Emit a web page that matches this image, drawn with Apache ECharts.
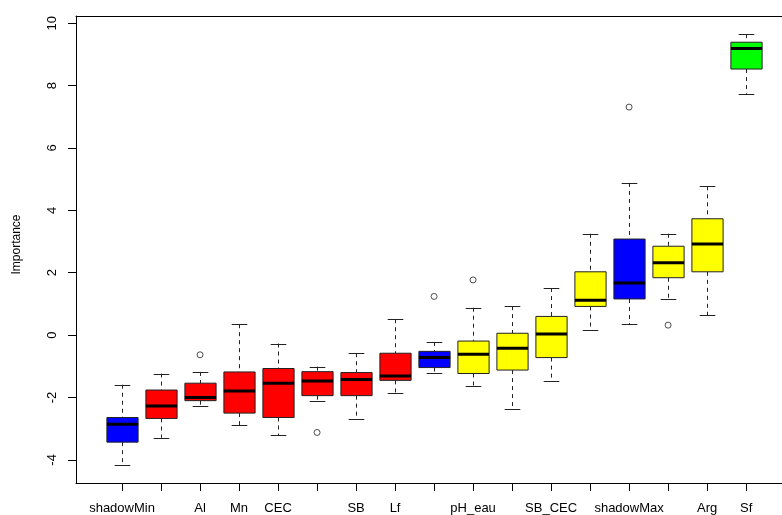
<!DOCTYPE html>
<html>
<head>
<meta charset="utf-8">
<script src="https://cdn.jsdelivr.net/npm/echarts@6/dist/echarts.min.js"></script>
<style>
  html, body { margin: 0; padding: 0; background: #fff; }
  #chart { width: 782px; height: 515px; }
</style>
</head>
<body>
<div id="chart"></div>
<script>
// Category labels (empty where the original axis dropped the label)
const categories = ['shadowMin', '', 'Al', 'Mn', 'CEC', '', 'SB', 'Lf', '', 'pH_eau', '', 'SB_CEC', '', 'shadowMax', '', 'Arg', 'Sf'];
// Boruta decision per attribute (drives fill colour)
const decisions = ['shadow', 'Rejected', 'Rejected', 'Rejected', 'Rejected', 'Rejected', 'Rejected', 'Rejected', 'shadow',
                   'Tentative', 'Tentative', 'Tentative', 'Tentative', 'shadow', 'Tentative', 'Tentative', 'Confirmed'];
// Box statistics
const lows    = [-4.16, -3.29, -2.27, -2.89, -3.20, -2.10, -2.70, -1.85, -1.22, -1.62, -2.38, -1.48, 0.18, 0.35, 1.16, 0.63, 7.74];
const q1s     = [-3.43, -2.67, -2.10, -2.50, -2.64, -1.94, -1.94, -1.45, -1.04, -1.23, -1.12, -0.72, 0.92, 1.16, 1.84, 2.03, 8.53];
const medians = [-2.86, -2.27, -2.00, -1.79, -1.54, -1.47, -1.42, -1.31, -0.72, -0.61, -0.42, 0.04, 1.12, 1.67, 2.32, 2.92, 9.19];
const q3s     = [-2.64, -1.76, -1.54, -1.18, -1.07, -1.17, -1.20, -0.58, -0.52, -0.19, 0.06, 0.60, 2.03, 3.08, 2.85, 3.73, 9.39];
const highs   = [-1.59, -1.23, -1.18, 0.35, -0.27, -1.01, -0.58, 0.51, -0.22, 0.88, 0.93, 1.51, 3.25, 4.88, 3.25, 4.77, 9.65];
// Outliers
const outlierIdx = [2, 5, 8, 9, 13, 14];
const outlierVal = [-0.63, -3.12, 1.24, 1.77, 7.31, 0.32];
// Y tick labels
const yTicks = [-4, -2, 0, 2, 4, 6, 8, 10];

const colorMap = { shadow: '#0000FF', Rejected: '#FF0000', Tentative: '#FFFF00', Confirmed: '#00FF00' };

const boxData = categories.map((c, i) => [i, lows[i], q1s[i], medians[i], q3s[i], highs[i]]);
const outData = outlierIdx.map((ix, k) => [ix, outlierVal[k]]);
const xTicks = categories.map((c, i) => i);

const FONT = 'Liberation Sans, Arial, sans-serif';
const chart = echarts.init(document.getElementById('chart'), null, { renderer: 'canvas' });

chart.setOption({
  animation: false,
  backgroundColor: '#ffffff',
  grid: { left: 76, right: 0, top: 16, bottom: 31, show: false },
  xAxis: [
    {
      type: 'value',
      position: 'bottom',
      min: -1.18, max: 16.92,
      axisLine: { show: true, onZero: false, lineStyle: { color: '#000', width: 1 } },
      splitLine: { show: false },
      axisTick: { show: true, length: 8, inside: false, customValues: xTicks, lineStyle: { color: '#000' } },
      axisLabel: {
        show: true, customValues: xTicks, margin: 19,
        fontFamily: FONT, fontSize: 13, color: '#000',
        formatter: function (v) { const i = Math.round(v); return categories[i] || ''; }
      }
    },
    {
      type: 'value',
      position: 'top',
      min: -1.18, max: 16.92,
      axisLine: { show: true, onZero: false, lineStyle: { color: '#000', width: 1 } },
      splitLine: { show: false },
      axisTick: { show: false },
      axisLabel: { show: false }
    }
  ],
  yAxis: {
    type: 'value',
    min: -4.74, max: 10.23,
    name: 'Importance', nameLocation: 'middle', nameRotate: 90, nameGap: 53,
    nameTextStyle: { fontFamily: FONT, fontSize: 12, color: '#000', padding: [0, 0, 0, 10] },
    axisLine: { show: true, onZero: false, lineStyle: { color: '#000', width: 1 } },
    splitLine: { show: false },
    axisTick: { show: true, length: 8, customValues: yTicks, lineStyle: { color: '#000' } },
    axisLabel: { show: true, customValues: yTicks, rotate: 90, margin: 17, fontFamily: FONT, fontSize: 13, color: '#000' }
  },
  series: [
    {
      type: 'custom',
      data: boxData,
      clip: false,
      renderItem: function (params, api) {
        const x = api.value(0);
        const i = params.dataIndex;
        const lo = api.coord([x, api.value(1)]);
        const b1 = api.coord([x, api.value(2)]);
        const md = api.coord([x, api.value(3)]);
        const b3 = api.coord([x, api.value(4)]);
        const hi = api.coord([x, api.value(5)]);
        const halfBox = api.size([0.4, 0])[0];
        const halfCap = api.size([0.2, 0])[0];
        const cx = Math.round(lo[0]) + 0.5;
        const stroke = '#222';
        return {
          type: 'group',
          children: [
            { type: 'line', shape: { x1: cx, y1: hi[1], x2: cx, y2: b3[1] }, style: { stroke: stroke, lineWidth: 1, lineDash: [4, 4] } },
            { type: 'line', shape: { x1: cx, y1: b1[1], x2: cx, y2: lo[1] }, style: { stroke: stroke, lineWidth: 1, lineDash: [4, 4] } },
            { type: 'line', shape: { x1: cx - halfCap, y1: Math.round(hi[1]) + 0.5, x2: cx + halfCap, y2: Math.round(hi[1]) + 0.5 }, style: { stroke: stroke, lineWidth: 1 } },
            { type: 'line', shape: { x1: cx - halfCap, y1: Math.round(lo[1]) + 0.5, x2: cx + halfCap, y2: Math.round(lo[1]) + 0.5 }, style: { stroke: stroke, lineWidth: 1 } },
            { type: 'rect', shape: { x: cx - halfBox, y: b3[1], width: 2 * halfBox, height: b1[1] - b3[1] },
              style: { fill: colorMap[decisions[i]], stroke: stroke, lineWidth: 1 } },
            { type: 'line', shape: { x1: cx - halfBox, y1: md[1], x2: cx + halfBox, y2: md[1] }, style: { stroke: '#000', lineWidth: 3 } }
          ]
        };
      }
    },
    {
      type: 'scatter',
      data: outData,
      symbol: 'circle',
      symbolSize: 6,
      itemStyle: { color: '#fff', borderColor: '#222', borderWidth: 1 }
    }
  ]
});
</script>
</body>
</html>
